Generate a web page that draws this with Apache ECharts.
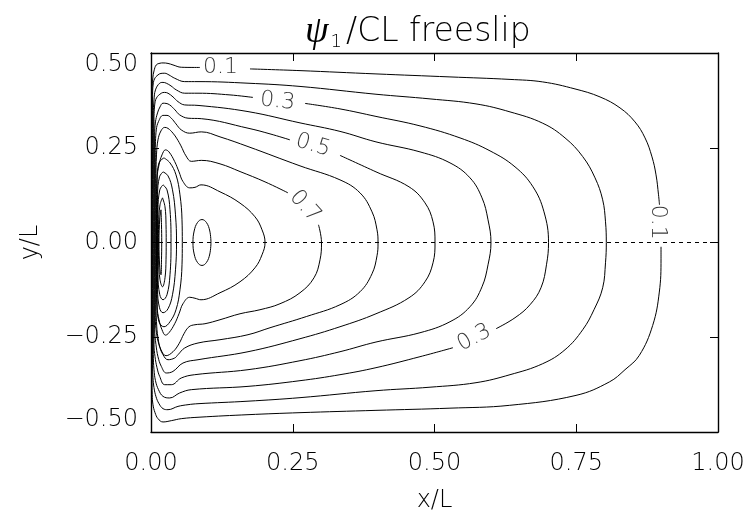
<!DOCTYPE html>
<html>
<head>
<meta charset="utf-8">
<script src="https://cdn.jsdelivr.net/npm/echarts@6/dist/echarts.min.js"></script>
<style>
  html, body { margin: 0; padding: 0; background: #fff; }
  #chart { width: 752px; height: 518px; }
</style>
</head>
<body>
<div id="chart"></div>
<script>
// Axis ticks
const xTicks = [0, 0.25, 0.5, 0.75, 1];
const yTicks = [-0.5, -0.25, 0, 0.25, 0.5];

// Streamfunction contours, points as [x/L, y/L]; pieces end where a label sits
const psi01a = [[0.1746,0.4580],[0.2628,0.4535],[0.3968,0.4448],[0.5273,0.4369],[0.6332,0.4303],[0.6908,0.4237],[0.7478,0.4052],[0.7919,0.3841],[0.8272,0.3551],[0.8536,0.3182],[0.8713,0.2760],[0.8836,0.2259],[0.8907,0.1785],[0.8951,0.1258],[0.8968,0.0994]];
const psi01b = [[0.8995,-0.0113],[0.8995,-0.0430],[0.8965,-0.1308],[0.8848,-0.2188],[0.8612,-0.2979],[0.8360,-0.3356],[0.8083,-0.3680],[0.7496,-0.4034],[0.6319,-0.4297],[0.5273,-0.4371],[0.3968,-0.4429],[0.2628,-0.4490],[0.1711,-0.4543],[0.0864,-0.4608],[0.0534,-0.4648],[0.0358,-0.4701],[0.0212,-0.4735],[0.0123,-0.4648],[0.0071,-0.4490],[0.0035,-0.4279],[0.0021,-0.4015],[0.0018,-0.3620],[0.0018,0.3499],[0.0021,0.4026],[0.0032,0.4342],[0.0053,0.4527],[0.0093,0.4685],[0.0159,0.4730],[0.0212,0.4738],[0.0300,0.4725],[0.0388,0.4685],[0.0534,0.4624],[0.0771,0.4619],[0.0864,0.4619]];
const psi02 = [[0.0028,0.3894],[0.0035,0.4131],[0.0062,0.4316],[0.0123,0.4421],[0.0176,0.4461],[0.0242,0.4466],[0.0317,0.4421],[0.0418,0.4334],[0.0594,0.4245],[0.0829,0.4245],[0.1711,0.4203],[0.2628,0.4118],[0.3968,0.3912],[0.4921,0.3789],[0.5732,0.3657],[0.6332,0.3446],[0.6908,0.3148],[0.7302,0.2760],[0.7614,0.2267],[0.7831,0.1706],[0.7966,0.1126],[0.8016,0.0546],[0.8030,0],[0.8016,-0.0535],[0.7966,-0.1194],[0.7813,-0.1774],[0.7614,-0.2302],[0.7302,-0.2829],[0.6908,-0.3198],[0.6332,-0.3488],[0.5732,-0.3699],[0.4921,-0.3818],[0.3968,-0.3910],[0.2628,-0.4094],[0.1711,-0.4187],[0.0829,-0.4253],[0.0653,-0.4279],[0.0476,-0.4324],[0.0300,-0.4411],[0.0212,-0.4384],[0.0141,-0.4253],[0.0088,-0.4068],[0.0053,-0.3831],[0.0035,-0.3567],[0.0028,-0.3224],[0.0028,0.3894]];
const psi03a = [[0.2716,0.3670],[0.3333,0.3525],[0.3968,0.3327],[0.4744,0.3077],[0.5450,0.2760],[0.5979,0.2418],[0.6420,0.1996],[0.6737,0.1469],[0.6931,0.0809],[0.7011,0],[0.6975,-0.0588],[0.6878,-0.1194],[0.6684,-0.1643],[0.6420,-0.1985],[0.6085,-0.2275]];
const psi03b = [[0.5326,-0.2776],[0.4744,-0.3013],[0.3968,-0.3303],[0.3333,-0.3488],[0.2628,-0.3646],[0.1711,-0.3796],[0.0711,-0.3883],[0.0506,-0.3970],[0.0330,-0.4102],[0.0212,-0.4060],[0.0132,-0.3883],[0.0079,-0.3646],[0.0053,-0.3356],[0.0041,-0.2961],[0.0041,0.3367],[0.0053,0.3762],[0.0079,0.4026],[0.0153,0.4203],[0.0212,0.4224],[0.0270,0.4203],[0.0353,0.4131],[0.0446,0.4026],[0.0594,0.3939],[0.0829,0.3939],[0.1393,0.3894],[0.1799,0.3828]];
const psi04 = [[0.0053,0.3288],[0.0065,0.3630],[0.0097,0.3815],[0.0182,0.3939],[0.0238,0.3960],[0.0300,0.3939],[0.0388,0.3841],[0.0476,0.3717],[0.0594,0.3630],[0.0829,0.3617],[0.1711,0.3454],[0.2628,0.3156],[0.3333,0.2932],[0.3968,0.2655],[0.4744,0.2391],[0.5273,0.2101],[0.5626,0.1706],[0.5838,0.1178],[0.5944,0.0598],[0.5996,0],[0.5944,-0.0588],[0.5838,-0.1168],[0.5626,-0.1695],[0.5273,-0.2091],[0.4744,-0.2381],[0.3968,-0.2626],[0.3333,-0.2882],[0.2628,-0.3119],[0.1711,-0.3356],[0.0771,-0.3488],[0.0534,-0.3575],[0.0358,-0.3752],[0.0242,-0.3752],[0.0153,-0.3533],[0.0106,-0.3303],[0.0071,-0.3013],[0.0053,-0.2697],[0.0053,0.3288]];
const psi05 = [[0.3333,0.2299],[0.3968,0.1864],[0.4550,0.1469],[0.4832,0.1047],[0.4974,0.0546],[0.5009,0],[0.4974,-0.0535],[0.4832,-0.1036],[0.4550,-0.1458],[0.3968,-0.1880],[0.3333,-0.2223],[0.2628,-0.2539],[0.1711,-0.2882],[0.0829,-0.3093],[0.0564,-0.3180],[0.0388,-0.3401],[0.0270,-0.3443],[0.0182,-0.3269],[0.0123,-0.3013],[0.0088,-0.2697],[0.0065,-0.2302],[0.0065,0.2839],[0.0079,0.3182],[0.0115,0.3419],[0.0159,0.3578],[0.0212,0.3675],[0.0265,0.3670],[0.0330,0.3630],[0.0423,0.3499],[0.0506,0.3367],[0.0653,0.3280],[0.0887,0.3267],[0.1711,0.3016],[0.2099,0.2866],[0.2451,0.2708]];
const psi06 = [[0.0076,0.2497],[0.0093,0.2971],[0.0132,0.3190],[0.0212,0.3354],[0.0282,0.3354],[0.0358,0.3280],[0.0441,0.3129],[0.0534,0.2971],[0.0683,0.2884],[0.0887,0.2919],[0.1217,0.2787],[0.1711,0.2531],[0.2628,0.2022],[0.3333,0.1653],[0.3686,0.1310],[0.3898,0.0809],[0.3986,0.0335],[0.4004,0],[0.3986,-0.0351],[0.3898,-0.0825],[0.3686,-0.1300],[0.3333,-0.1643],[0.2746,-0.1951],[0.2099,-0.2249],[0.1711,-0.2433],[0.1217,-0.2565],[0.0829,-0.2652],[0.0594,-0.2784],[0.0476,-0.2961],[0.0418,-0.3048],[0.0300,-0.3093],[0.0212,-0.2961],[0.0141,-0.2697],[0.0097,-0.2381],[0.0076,-0.1985],[0.0076,0.2497]];
const psi07 = [[0.2954,0.0467],[0.3007,0],[0.2981,-0.0456],[0.2875,-0.0931],[0.2628,-0.1326],[0.2275,-0.1616],[0.1922,-0.1774],[0.1570,-0.1880],[0.1217,-0.2038],[0.0952,-0.2143],[0.0776,-0.2170],[0.0670,-0.2223],[0.0582,-0.2407],[0.0494,-0.2671],[0.0388,-0.2882],[0.0265,-0.2987],[0.0176,-0.2829],[0.0123,-0.2513],[0.0097,-0.2091],[0.0088,-0.1511],[0.0088,0.1653],[0.0097,0.2312],[0.0123,0.2708],[0.0176,0.2945],[0.0242,0.3037],[0.0300,0.3011],[0.0388,0.2884],[0.0459,0.2734],[0.0529,0.2549],[0.0617,0.2286],[0.0711,0.2141],[0.0887,0.2167],[0.1217,0.2075],[0.1570,0.1872],[0.2011,0.1600],[0.2416,0.1310]];
const psi08 = [[0.0097,0.1258],[0.0106,0.1706],[0.0141,0.2049],[0.0194,0.2312],[0.0256,0.2444],[0.0317,0.2391],[0.0418,0.2135],[0.0494,0.1864],[0.0564,0.1608],[0.0683,0.1442],[0.0776,0.1455],[0.0882,0.1521],[0.1217,0.1337],[0.1570,0.1039],[0.1834,0.0678],[0.1958,0.0335],[0.2011,0],[0.1958,-0.0324],[0.1834,-0.0667],[0.1570,-0.1036],[0.1217,-0.1326],[0.0882,-0.1511],[0.0776,-0.1471],[0.0683,-0.1445],[0.0564,-0.1616],[0.0494,-0.1880],[0.0418,-0.2143],[0.0317,-0.2381],[0.0256,-0.2444],[0.0194,-0.2302],[0.0141,-0.2038],[0.0106,-0.1695],[0.0097,-0.1247],[0.0097,0.1258]];
const psi09eddy = [[0.1058,0],[0.1037,0.0303],[0.0979,0.0525],[0.0899,0.0606],[0.0819,0.0525],[0.0761,0.0303],[0.0740,0],[0.0761,-0.0303],[0.0819,-0.0525],[0.0899,-0.0606],[0.0979,-0.0525],[0.1037,-0.0303],[0.1058,0]];
const psi09wall = [[0.0229,0.2233],[0.0335,0.2101],[0.0441,0.1785],[0.0511,0.1258],[0.0547,0.0598],[0.0552,0],[0.0547,-0.0588],[0.0511,-0.1247],[0.0441,-0.1774],[0.0335,-0.2091],[0.0229,-0.2223],[0.0141,-0.2091],[0.0109,-0.1643],[0.0106,0],[0.0109,0.1653],[0.0141,0.2101],[0.0229,0.2233]];
const psi10wall = [[0.0212,0.1864],[0.0300,0.1759],[0.0379,0.1389],[0.0432,0.0730],[0.0450,0],[0.0432,-0.0720],[0.0379,-0.1379],[0.0300,-0.1748],[0.0212,-0.1853],[0.0150,-0.1722],[0.0116,-0.1247],[0.0113,0],[0.0116,0.1258],[0.0150,0.1732],[0.0212,0.1864]];
const psi11wall = [[0.0212,0.1521],[0.0282,0.1389],[0.0335,0.0862],[0.0353,0],[0.0335,-0.0852],[0.0282,-0.1379],[0.0212,-0.1511],[0.0155,-0.1379],[0.0123,-0.0852],[0.0120,0],[0.0123,0.0862],[0.0155,0.1389],[0.0212,0.1521]];
const psi12wall = [[0.0203,0.1178],[0.0247,0.0941],[0.0265,0.0467],[0.0268,0],[0.0265,-0.0456],[0.0247,-0.0931],[0.0203,-0.1168],[0.0159,-0.0983],[0.0134,-0.0456],[0.0131,0],[0.0134,0.0467],[0.0159,0.0994],[0.0203,0.1178]];
const psi13wall = [[0.0176,0.0862],[0.0185,0.0467],[0.0189,0],[0.0185,-0.0456],[0.0176,-0.0852],[0.0155,-0.0667],[0.0141,0],[0.0155,0.0651],[0.0176,0.0862]];

// Contour labels: anchor [x/L, y/L], text, and angle along the line
const labelAnchors = [[0.1226,0.4619],[0.2231,0.3723],[0.2857,0.2563],[0.2716,0.0949],[0.8942,0.0533],[0.5702,-0.2513]];
const labelTexts = ['0.1', '0.3', '0.5', '0.7', '0.1', '0.3'];
const labelAngles = [0, -6, -17, -48, -90, 28];

// Equator reference line
const equator = [[0, 0], [1, 0]];

const contourPieces = [psi01a, psi01b, psi02, psi03a, psi03b, psi04, psi05, psi06, psi07, psi08,
  psi09eddy, psi09wall, psi10wall, psi11wall, psi12wall, psi13wall];

const FONT = "'DejaVu Sans', sans-serif";
const INK = '#000';

const fmt = v => (v < 0 ? '\u2212' : '') + Math.abs(v).toFixed(2);

const chart = echarts.init(document.getElementById('chart'), null, { renderer: 'canvas' });

const baseAxis = {
  type: 'value',
  interval: 0.25,
  axisLine: { show: true, onZero: false, lineStyle: { color: '#000', width: 1.4 } },
  axisTick: { show: true, inside: true, length: 8, lineStyle: { color: '#000', width: 1 } },
  splitLine: { show: false },
  axisLabel: { show: false }
};

const labelStyle = { fontFamily: FONT, fontSize: 24, fontWeight: 200, color: INK };

const series = contourPieces.map(piece => ({
  type: 'line',
  data: piece,
  showSymbol: false,
  smooth: 0.4,
  silent: true,
  animation: false,
  lineStyle: { color: '#000', width: 1 },
  z: 3
}));

series.push({
  type: 'line',
  data: equator,
  showSymbol: false,
  silent: true,
  animation: false,
  lineStyle: { color: '#000', width: 1, type: [4, 4] },
  z: 2
});

series.push({
  type: 'scatter',
  symbolSize: 0,
  silent: true,
  animation: false,
  data: labelAnchors.map((p, i) => ({
    value: p,
    label: { formatter: labelTexts[i], rotate: labelAngles[i] }
  })),
  label: {
    show: true,
    position: 'inside',
    fontFamily: FONT,
    fontSize: 22,
    fontWeight: 200,
    color: INK
  },
  z: 4
});

chart.setOption({
  backgroundColor: '#fff',
  animation: false,
  title: {
    left: 300,
    top: 8,
    text: '{g|\u03c8}{s|1}{t|/CL freeslip}',
    textStyle: {
      rich: {
        g: { fontFamily: "'Liberation Serif', serif", fontStyle: 'italic', fontWeight: 'normal', fontSize: 38, color: INK, lineHeight: 38 },
        s: { fontFamily: FONT, fontSize: 18, fontWeight: 200, color: INK, verticalAlign: 'bottom', lineHeight: 18, padding: [0, 4, 0, 2] },
        t: { fontFamily: FONT, fontSize: 33, fontWeight: 200, color: INK, lineHeight: 38 }
      }
    }
  },
  grid: { left: 151, right: 34, top: 53, bottom: 86, containLabel: false },
  xAxis: [
    Object.assign({}, baseAxis, {
      position: 'bottom', min: xTicks[0], max: xTicks[xTicks.length - 1],
      axisLabel: Object.assign({ show: true, margin: 20, formatter: fmt }, labelStyle),
      name: 'x/L', nameLocation: 'middle', nameGap: 57,
      nameTextStyle: Object.assign({}, labelStyle)
    }),
    Object.assign({}, baseAxis, { position: 'top', min: xTicks[0], max: xTicks[xTicks.length - 1] })
  ],
  yAxis: [
    Object.assign({}, baseAxis, {
      position: 'left', min: yTicks[0], max: yTicks[yTicks.length - 1],
      axisLabel: Object.assign({
        show: true, margin: 13, formatter: fmt,
        verticalAlignMaxLabel: 'top', verticalAlignMinLabel: 'bottom'
      }, labelStyle),
      name: 'y/L', nameLocation: 'middle', nameGap: 108,
      nameTextStyle: Object.assign({}, labelStyle)
    }),
    Object.assign({}, baseAxis, { position: 'right', min: yTicks[0], max: yTicks[yTicks.length - 1] })
  ],
  series: series
});
</script>
</body>
</html>
